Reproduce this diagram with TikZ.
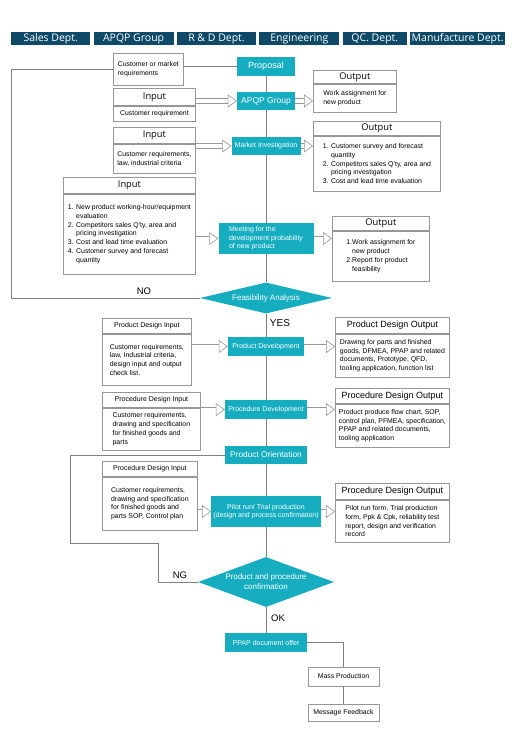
\documentclass[tikz,border=0pt]{standalone}
\usepackage{fontspec}
\setmainfont{Liberation Sans}
\newfontfamily\headfont{Open Sans}
\usetikzlibrary{shapes.geometric, arrows.meta, positioning, calc}

\definecolor{deptblue}{RGB}{14,74,104}
\definecolor{flowteal}{RGB}{22,173,192}
\definecolor{linegray}{RGB}{128,128,128}
\definecolor{boxgray}{RGB}{150,150,150}

\newcommand{\bodyfont}{\fontsize{6.9}{8.7}\selectfont}
\newcommand{\ind}{\phantom{1. }}

\begin{document}
\begin{tikzpicture}[
        x=1pt, y=-1pt,
        dept/.style={rectangle, fill=deptblue, text=white, minimum height=13pt, inner sep=0pt, font=\headfont\fontsize{10.5}{12}\selectfont},
        flow/.style={rectangle, fill=flowteal, text=white, inner sep=2pt, align=center, font=\fontsize{7}{8.6}\selectfont},
        decision/.style={diamond, fill=flowteal, text=white, inner sep=0pt, align=center, font=\fontsize{8}{10}\selectfont},
        plain/.style={rectangle, draw=boxgray, line width=0.8pt, fill=white, inner xsep=3pt, inner ysep=1pt, align=left, font=\bodyfont},
        hdr/.style={plain, align=center, font=\headfont\fontsize{9.3}{10}\selectfont},
        hdrsm/.style={plain, align=center, font=\fontsize{7}{8}\selectfont},
        hdrlg/.style={plain, align=center, font=\fontsize{9}{10}\selectfont},
        line/.style={draw=linegray, line width=0.9pt},
        hollow/.style={draw=boxgray, line width=0.6pt, double=white, double distance=4pt, -{Triangle[open, length=9pt, width=13pt]}},
        lbl/.style={inner sep=0pt, font=\fontsize{9.5}{11}\selectfont}
    ]
    \useasboundingbox (0,0) rectangle (524,736);

    % department bar
    \node[dept, minimum width=79pt, anchor=north west] (sales) at (11,32) {Sales Dept.};
    \node[dept, minimum width=80pt, right=3pt of sales] (apqpdept) {APQP Group};
    \node[dept, minimum width=79pt, right=3pt of apqpdept] (rnd) {R \& D Dept.};
    \node[dept, minimum width=80pt, right=3pt of rnd] (eng) {Engineering};
    \node[dept, minimum width=64pt, right=3pt of eng] (qc) {QC. Dept.};
    \node[dept, minimum width=95pt, right=3pt of qc] (manu) {Manufacture Dept.};

    % main flow
    \node[flow, minimum width=58pt, minimum height=19pt, font=\fontsize{9}{10}\selectfont] (proposal) at (266,66.5) {Proposal};
    \node[flow, minimum width=58pt, minimum height=18pt, font=\fontsize{8.5}{10}\selectfont] (apqp) at (266,101) {APQP Group};
    \node[flow, minimum width=69pt, minimum height=18pt] (market) at (266,146) {Market Investigation};
    \node[flow, minimum width=95pt, minimum height=31pt, align=left] (meeting) at (266,238.5) {Meeting for the\\development probability\\of new product};
    \node[decision, aspect=4.26, minimum width=132pt, minimum height=31pt] (feas) at (266,298) {Feasibility Analysis};
    \node[flow, minimum width=76pt, minimum height=19pt] (pdev) at (266,346.5) {Product Development};
    \node[flow, minimum width=82pt, minimum height=19pt] (prdev) at (266,409.5) {Procedure Development};
    \node[flow, minimum width=82pt, minimum height=18pt, font=\fontsize{8.3}{10}\selectfont] (orient) at (266,455) {Product Orientation};
    \node[flow, minimum width=109pt, minimum height=31pt] (pilot) at (266,511.5) {Pilot run/ Trial production\\(design and process confirmation)};
    \node[decision, aspect=2.72, minimum width=136pt, minimum height=50pt] (confirm) at (266,582) {Product and procedure\\confirmation};
    \node[flow, minimum width=82pt, minimum height=19pt] (ppap) at (266,642.5) {PPAP document offer};
    \node[plain, minimum width=71pt, minimum height=19pt, align=center] (mass) at (343.5,676.5) {Mass Production};
    \node[plain, minimum width=71pt, minimum height=17pt, align=center] (feedback) at (343.5,712.5) {Message Feedback};

    % inputs and outputs
    \node[plain, minimum width=70pt, minimum height=32pt, anchor=north west] (custreq) at (113,53) {Customer or market\\requirements};

    \node[hdr, minimum width=82pt, minimum height=17pt, anchor=north west] (in1h) at (113,88) {Input};
    \node[plain, minimum width=82pt, minimum height=15pt, align=center, below=0pt of in1h] (in1b) {Customer requirement};
    \node[hdr, minimum width=83pt, minimum height=13pt, anchor=north west] (out1h) at (313,70) {Output};
    \node[plain, minimum width=83pt, minimum height=28pt, below=0pt of out1h] (out1b) {Work assignment for\\new product};

    \node[hdr, minimum width=82pt, minimum height=16pt, anchor=north west] (in2h) at (113,127) {Input};
    \node[plain, minimum width=82pt, minimum height=29pt, below=0pt of in2h] (in2b) {Customer requirements,\\law, industrial criteria};
    \node[hdr, minimum width=127pt, minimum height=14pt, anchor=north west] (out2h) at (313,121) {Output};
    \node[plain, minimum width=127pt, minimum height=55pt, below=0pt of out2h] (out2b) {1. Customer survey and forecast\\\ind quantity\\2. Competitors sales Q'ty, area and\\\ind pricing investigation\\3. Cost and lead time evaluation};

    \node[hdr, minimum width=132pt, minimum height=16pt, anchor=north west] (in3h) at (63,177) {Input};
    \node[plain, minimum width=132pt, minimum height=80pt, below=0pt of in3h] (in3b) {1. New product working-hour/equipment\\\ind evaluation\\2. Competitors sales Q'ty, area and\\\ind pricing investigation\\3. Cost and lead time evaluation\\4. Customer survey and forecast\\\ind quantity};
    \node[hdr, minimum width=97pt, minimum height=14pt, anchor=north west] (out3h) at (332,216) {Output};
    \node[plain, minimum width=97pt, minimum height=50pt, below=0pt of out3h] (out3b) {1.Work assignment for\\\phantom{1.}new product\\2.Report for product\\\phantom{2.}feasibility};

    \node[hdrsm, minimum width=89pt, minimum height=15pt, anchor=north west] (pdinh) at (102,318) {Product Design Input};
    \node[plain, minimum width=89pt, minimum height=51pt, below=0pt of pdinh] (pdinb) {Customer requirements,\\law, Industrial criteria,\\design input and output\\check list.};
    \node[hdrlg, minimum width=114pt, minimum height=16pt, anchor=north west] (pdouth) at (335,317) {Product Design Output};
    \node[plain, minimum width=114pt, minimum height=43pt, below=0pt of pdouth] (pdoutb) {Drawing for parts and finished\\goods, DFMEA, PPAP and related\\documents, Prototype, QFD,\\tooling application, function list};

    \node[hdrsm, minimum width=98pt, minimum height=15pt, anchor=north west] (prin1h) at (102,392) {Procedure Design Input};
    \node[plain, minimum width=98pt, minimum height=42pt, below=0pt of prin1h] (prin1b) {Customer requirements,\\drawing and specification\\for finished goods and\\parts};
    \node[hdrlg, minimum width=114pt, minimum height=15pt, anchor=north west] (prout1h) at (335,388) {Procedure Design Output};
    \node[plain, minimum width=114pt, minimum height=43pt, below=0pt of prout1h] (prout1b) {Product produce flow chart, SOP,\\control plan, PFMEA, specification,\\PPAP and related documents,\\tooling application};

    \node[hdrsm, minimum width=95pt, minimum height=15pt, anchor=north west] (prin2h) at (102,461) {Procedure Design Input};
    \node[plain, minimum width=95pt, minimum height=53pt, below=0pt of prin2h] (prin2b) {Customer requirements,\\drawing and specification\\for finished goods and\\parts SOP, Control plan};
    \node[hdrlg, minimum width=114pt, minimum height=16pt, anchor=north west] (prout2h) at (335,483) {Procedure Design Output};
    \node[plain, minimum width=114pt, minimum height=42pt, below=0pt of prout2h] (prout2b) {Pilot run form, Trial production\\form, Ppk \& Cpk, reliability test\\report, design and verification\\record};

    % main line
    \draw[line] (proposal) -- (apqp) -- (market) -- (meeting) -- (feas) -- (pdev) -- (prdev) -- (orient) -- (pilot) -- (confirm) -- (ppap);
    \draw[line] (custreq.east |- proposal.west) -- (proposal.west);
    \draw[line] (ppap.east) -| (mass.north);
    \draw[line] (mass) -- (feedback);

    % loops back
    \coordinate (noback) at (11,298);
    \draw[line] (custreq.west) -| (noback) -- (feas.west);
    \coordinate (ngleft) at (70,543);
    \coordinate (ngstep) at (158,582);
    \draw[line] (orient.west) -| (ngleft) -| (ngstep) -- (confirm.west);

    \node[lbl] (nolbl) at (144,291) {NO};
    \node[lbl, font=\fontsize{10}{12}\selectfont] (yeslbl) at (280,323) {YES};
    \node[lbl] (nglbl) at (180,575) {NG};
    \node[lbl] (oklbl) at (278,618) {OK};

    % hollow arrows
    \draw[hollow] (in1b.east |- apqp.west) -- (apqp.west);
    \draw[hollow] (apqp.east) -- (apqp.east -| out1b.west);
    \draw[hollow] (in2b.east |- market.west) -- (market.west);
    \draw[hollow] (market.east) -- (market.east -| out2b.west);
    \draw[hollow] (in3b.east |- meeting.west) -- (meeting.west);
    \draw[hollow] (meeting.east) -- (meeting.east -| out3b.west);
    \draw[hollow] (pdinb.east |- pdev.west) -- (pdev.west);
    \draw[hollow] (pdev.east) -- (pdev.east -| pdoutb.west);
    \draw[hollow] (prin1b.east |- prdev.west) -- (prdev.west);
    \draw[hollow] (prdev.east) -- (prdev.east -| prout1b.west);
    \draw[hollow] (prin2b.east |- pilot.west) -- (pilot.west);
    \draw[hollow] (pilot.east) -- (pilot.east -| prout2b.west);

\end{tikzpicture}
\end{document}
